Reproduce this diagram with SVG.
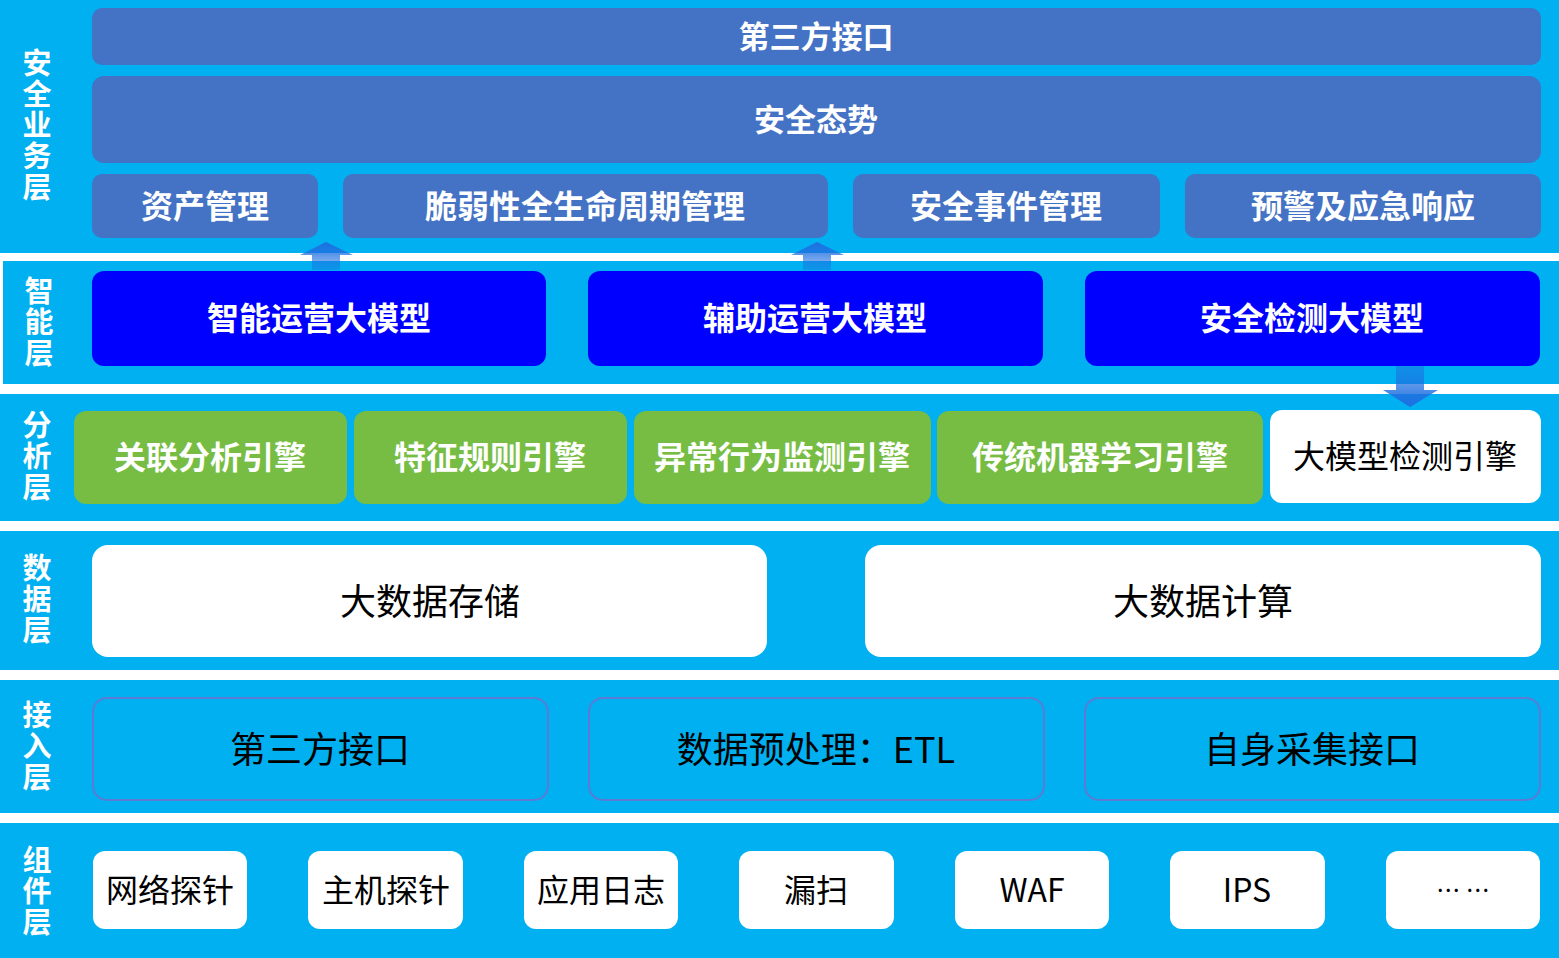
<svg xmlns="http://www.w3.org/2000/svg" width="1559" height="958" viewBox="0 0 1559 958">
<defs>
<linearGradient id="ag" x1="0" y1="0" x2="0" y2="1"><stop offset="0" stop-color="#1f6fe0"/><stop offset="1" stop-color="#1f6fe0" stop-opacity="0.4"/></linearGradient>
<linearGradient id="dg" x1="0" y1="0" x2="0" y2="1"><stop offset="0" stop-color="#1f6fe0" stop-opacity="0.5"/><stop offset="1" stop-color="#1f6fe0"/></linearGradient>
</defs>
<style>
.band{fill:#00b0f0}
.lbl{font-family:"Noto Sans CJK SC",sans-serif;font-weight:bold;font-size:29px;fill:#fff;text-anchor:middle;writing-mode:vertical-rl;letter-spacing:2px}
.p{fill:#4472c4}
.b{fill:#0000ff}
.g{fill:#77bd43}
.w{fill:#fff}
.o{fill:none;stroke:#5b7bd5;stroke-width:2}
.tw{font-family:"Noto Sans CJK SC",sans-serif;font-weight:bold;fill:#fff;text-anchor:middle;dominant-baseline:central}
.tk{font-family:"Noto Sans CJK SC",sans-serif;fill:#000;text-anchor:middle;dominant-baseline:central}
</style>
<rect width="1559" height="958" fill="#fff"/>
<rect class="band" x="0" y="0" width="1559" height="253"/>
<rect class="band" x="3" y="261" width="1556" height="123"/>
<rect class="band" x="0" y="394" width="1559" height="127"/>
<rect class="band" x="0" y="531" width="1559" height="139"/>
<rect class="band" x="0" y="680" width="1559" height="133"/>
<rect class="band" x="0" y="823" width="1559" height="135"/>
<g id="layer-labels">
<text class="lbl" x="37" y="126">安全业务层</text>
<text class="lbl" x="39" y="323">智能层</text>
<text class="lbl" x="37" y="457">分析层</text>
<text class="lbl" x="37" y="600">数据层</text>
<text class="lbl" x="37" y="747">接入层</text>
<text class="lbl" x="37" y="892">组件层</text>
</g>
<g id="business">
<rect class="p" x="92" y="8" width="1449" height="57" rx="10"/><text class="tw" x="816" y="34" font-size="31">第三方接口</text>
<rect class="p" x="92" y="76" width="1449" height="87" rx="12"/><text class="tw" x="816" y="117" font-size="31">安全态势</text>
<rect class="p" x="92" y="174" width="226" height="64" rx="10"/><text class="tw" x="205" y="204" font-size="32">资产管理</text>
<rect class="p" x="343" y="174" width="485" height="64" rx="10"/><text class="tw" x="585" y="204" font-size="32">脆弱性全生命周期管理</text>
<rect class="p" x="853" y="174" width="307" height="64" rx="10"/><text class="tw" x="1006" y="204" font-size="32">安全事件管理</text>
<rect class="p" x="1185" y="174" width="356" height="64" rx="10"/><text class="tw" x="1363" y="204" font-size="32">预警及应急响应</text>
</g>
<g id="intel">
<rect class="b" x="92" y="271" width="454" height="95" rx="12"/><text class="tw" x="319" y="316" font-size="32">智能运营大模型</text>
<rect class="b" x="588" y="271" width="455" height="95" rx="12"/><text class="tw" x="815" y="316" font-size="32">辅助运营大模型</text>
<rect class="b" x="1085" y="271" width="455" height="95" rx="12"/><text class="tw" x="1312" y="316" font-size="32">安全检测大模型</text>
</g>
<g id="analysis">
<rect class="g" x="74" y="411" width="273" height="93" rx="12"/><text class="tw" x="210" y="455" font-size="32">关联分析引擎</text>
<rect class="g" x="354" y="411" width="273" height="93" rx="12"/><text class="tw" x="490" y="455" font-size="32">特征规则引擎</text>
<rect class="g" x="634" y="411" width="297" height="93" rx="12"/><text class="tw" x="782" y="455" font-size="32">异常行为监测引擎</text>
<rect class="g" x="937" y="411" width="326" height="93" rx="12"/><text class="tw" x="1100" y="455" font-size="32">传统机器学习引擎</text>
<rect class="w" x="1270" y="410" width="271" height="93" rx="12"/><text class="tk" x="1405" y="454" font-size="32">大模型检测引擎</text>
</g>
<g id="data">
<rect class="w" x="92" y="545" width="675" height="112" rx="16"/><text class="tk" x="430" y="599" font-size="36">大数据存储</text>
<rect class="w" x="865" y="545" width="676" height="112" rx="16"/><text class="tk" x="1203" y="599" font-size="36">大数据计算</text>
</g>
<g id="access">
<rect class="o" x="93" y="698" width="455" height="102" rx="14"/><text class="tk" x="320" y="747" font-size="36">第三方接口</text>
<rect class="o" x="589" y="698" width="455" height="102" rx="14"/><text class="tk" x="816" y="747" font-size="36">数据预处理：ETL</text>
<rect class="o" x="1085" y="698" width="455" height="102" rx="14"/><text class="tk" x="1312" y="747" font-size="36">自身采集接口</text>
</g>
<g id="components">
<rect class="w" x="93" y="851" width="154" height="78" rx="12"/><text class="tk" x="170" y="888" font-size="32">网络探针</text>
<rect class="w" x="308" y="851" width="155" height="78" rx="12"/><text class="tk" x="386" y="888" font-size="32">主机探针</text>
<rect class="w" x="524" y="851" width="154" height="78" rx="12"/><text class="tk" x="601" y="888" font-size="32">应用日志</text>
<rect class="w" x="739" y="851" width="155" height="78" rx="12"/><text class="tk" x="816" y="888" font-size="32">漏扫</text>
<rect class="w" x="955" y="851" width="154" height="78" rx="12"/><text class="tk" x="1032" y="888" font-size="32">WAF</text>
<rect class="w" x="1170" y="851" width="155" height="78" rx="12"/><text class="tk" x="1247" y="888" font-size="32">IPS</text>
<rect class="w" x="1386" y="851" width="154" height="78" rx="12"/><text class="tk" x="1463" y="888" font-size="24">… …</text>
</g>
<g id="connectors">
<path d="M312 270V255H300L326 242L353 255H340V270Z" fill="url(#ag)"/>
<path d="M803 270V255H791L817 242L844 255H831V270Z" fill="url(#ag)"/>
<path d="M1396 366V390H1383L1410 407L1438 390H1424V366Z" fill="url(#dg)"/>
</g>
</svg>
